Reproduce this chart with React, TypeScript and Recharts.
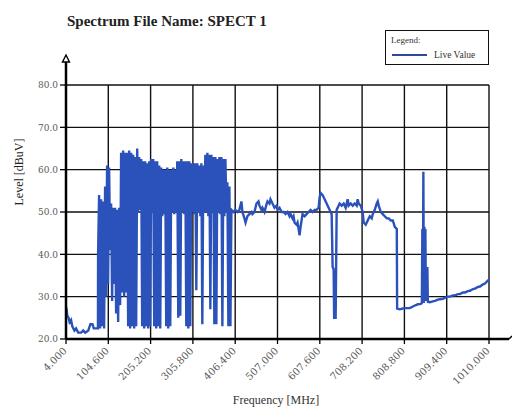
import React from 'react';
import { LineChart, Line, XAxis, YAxis, CartesianGrid } from 'recharts';

const lowBand: [number, number][] = [
  [4.0, 27.5], [5.5, 27.0], [7.0, 25.5], [10.0, 25.0], [12.5, 24.0], [16.0, 24.5],
  [19.0, 23.0], [24.0, 22.0], [28.0, 22.5], [33.0, 21.5], [40.0, 21.5], [45.0, 22.0],
  [50.0, 21.5], [57.0, 22.0], [62.0, 23.5], [67.0, 23.5], [70.0, 22.5], [76.0, 22.5],
  [80.0, 22.5],
];

const tvBand: [number, number][] = [
  [80.3, 40], [82.7, 54], [85.1, 22.5], [87.5, 53], [89.8, 23], [92.2, 52.5],
  [94.6, 22.5], [97.0, 56], [99.4, 30], [101.7, 61], [104.1, 33], [106.5, 60.5],
  [108.9, 41], [111.3, 52], [113.7, 29], [116.0, 51], [118.4, 33], [120.8, 51],
  [123.2, 26], [125.6, 50.5], [128.0, 24], [130.4, 51], [132.7, 28], [135.1, 64],
  [137.5, 31], [139.9, 64.5], [142.3, 30], [144.7, 64], [147.0, 31], [149.4, 64],
  [151.8, 23], [154.2, 64.5], [156.6, 22.5], [159.0, 64], [161.4, 23], [163.7, 63.5],
  [166.1, 22.5], [168.5, 63], [170.9, 23], [173.3, 65], [175.6, 50], [178.0, 63],
  [180.4, 50.5], [182.8, 62.5], [185.2, 23], [187.6, 62], [190.0, 22.5], [192.3, 62],
  [194.7, 23], [197.1, 61.5], [199.5, 22.5], [201.9, 62], [204.3, 23], [206.6, 62.5],
  [209.0, 50], [211.4, 62.5], [213.8, 23], [216.2, 62], [218.6, 22.5], [220.9, 62],
  [223.3, 23], [225.7, 61], [228.1, 22.5], [230.5, 60.5], [232.9, 49], [235.3, 60],
  [237.6, 49.5], [240.0, 60], [242.4, 23], [244.8, 60.5], [247.2, 22.5], [249.6, 60],
  [251.9, 23], [254.3, 60], [256.7, 50], [259.1, 60.5], [261.5, 49.5], [263.9, 60],
  [266.2, 50], [268.6, 62], [271.0, 25], [273.4, 62], [275.8, 25.5], [278.2, 62.5],
  [280.6, 50], [282.9, 62], [285.3, 49.5], [287.7, 62], [290.1, 23], [292.5, 62],
  [294.9, 22.5], [297.2, 62], [299.6, 23], [302.0, 61.5], [304.4, 50], [306.8, 61.5],
  [309.2, 49.5], [311.5, 61.5], [313.9, 31.5], [316.3, 61.5], [318.7, 50], [321.1, 61],
  [323.5, 49], [325.9, 61.5], [328.2, 23.5], [330.6, 61], [333.0, 50], [335.4, 63.5],
  [337.8, 50], [340.2, 64], [342.5, 49], [344.9, 63.5], [347.3, 27], [349.7, 63.5],
  [352.1, 50], [354.5, 63], [356.8, 23.5], [359.2, 63], [361.6, 23.5], [364.0, 62.5],
  [366.4, 50], [368.8, 63], [371.2, 49.5], [373.5, 63], [375.9, 23], [378.3, 62.5],
  [380.7, 49], [383.1, 62.5], [385.5, 50], [387.8, 57], [390.2, 23], [392.6, 56],
  [395.0, 23], [397.4, 50.5],
];

const midBand: [number, number][] = [
  [402.1, 50], [406.9, 50.5], [411.7, 50], [416.4, 50.5], [421.2, 52.5], [423.6, 50],
  [428.4, 48.5], [431.0, 47.5], [435.5, 49], [440.3, 49.5], [445.0, 50], [447.4, 49.5],
  [452.2, 50], [457.0, 52], [461.7, 52.5], [464.1, 51.5], [468.9, 50.5], [471.3, 51],
  [476.1, 50], [480.0, 51.5], [483.2, 52.5], [487.9, 52], [490.3, 53], [495.1, 52],
  [499.9, 51], [504.7, 51.5], [507.0, 50.5], [511.8, 51], [516.6, 50], [521.4, 50],
  [526.1, 49.5], [530.9, 50], [535.6, 49], [538.0, 49.5], [542.8, 48.5], [545.2, 49],
  [547.6, 47.5], [552.3, 47], [554.7, 47.5], [557.1, 46], [559.5, 44.5], [561.9, 46.5],
  [564.2, 48], [566.6, 49.5], [571.4, 49], [576.2, 49.5], [581.0, 50], [585.7, 50.5],
  [590.5, 50], [595.2, 50.5], [600.0, 50.5], [604.8, 51], [607.2, 53.5], [609.6, 54.5],
  [614.3, 54], [619.1, 53], [623.8, 52], [628.6, 51], [633.4, 50], [635.8, 49.5],
  [638.1, 37], [640.5, 36.5], [641.7, 25], [645.3, 25], [647.7, 50.5], [650.0, 51],
  [654.8, 52], [659.6, 51.5], [664.4, 52], [669.1, 51], [673.9, 53], [676.3, 51.5],
  [681.1, 52], [685.8, 51.5], [690.6, 52], [695.4, 51.5], [697.7, 53], [700.1, 52],
  [704.9, 51.5], [709.6, 50], [712.0, 47.5], [716.8, 47], [721.6, 48], [726.4, 49],
  [731.1, 48.5], [733.5, 49.5], [738.3, 50.5], [743.0, 52], [745.4, 52.5], [747.8, 51.5],
  [752.6, 50], [757.3, 49.5], [762.1, 49], [766.9, 48.5], [771.6, 48.5], [776.4, 48],
  [781.2, 48], [786.0, 46.5], [790.7, 46],
];

const highBand: [number, number][] = [
  [791.5, 27.2], [797.9, 27], [805.0, 27.2], [812.2, 27.3], [821.7, 27.3], [831.2, 27.8],
  [840.8, 28.2], [848.0, 28.3], [850.3, 28.5], [851.5, 46], [852.7, 28.5], [853.9, 59.5],
  [855.1, 28.5], [856.3, 46.5], [857.5, 29], [858.7, 46], [859.9, 29], [861.0, 37],
  [862.2, 29], [863.4, 37], [864.6, 28.8], [869.4, 28.7], [876.5, 28.9], [881.3, 29],
  [888.4, 29.3], [893.2, 29.4], [900.4, 29.5], [905.2, 29.7], [912.3, 30], [917.1, 30],
  [924.2, 30.3], [929.0, 30.3], [936.2, 30.6], [940.9, 30.6], [948.1, 31], [952.8, 31],
  [960.0, 31.3], [964.8, 31.4], [971.9, 31.8], [976.7, 31.9], [983.8, 32.3], [988.6, 32.4],
  [995.7, 32.9], [1000.5, 33.1], [1005.3, 33.6], [1010.0, 34],
];

const xTicks = [4, 104.6, 205.2, 305.8, 406.4, 507, 607.6, 708.2, 808.8, 909.4, 1010];
const yTicks = [20, 30, 40, 50, 60, 70, 80];

const data = [...lowBand, ...tvBand, ...midBand, ...highBand].map(([f, v]) => ({ f, v }));

const LINE_BLUE = '#2b52bb';
const TICK_GREY = '#5a5a5a';

function FreqTick({ x, y, payload }: any) {
  return (
    <text
      x={0}
      y={0}
      transform={`translate(${x - 1},${y + 3}) rotate(-45)`}
      textAnchor="end"
      dy="0.35em"
      fontSize={10}
      fontFamily="'DejaVu Serif', serif"
      fill={TICK_GREY}
    >
      {Number(payload.value).toFixed(3)}
    </text>
  );
}

export default function App() {
  return (
    <div
      style={{
        position: 'absolute',
        left: 0,
        top: 0,
        width: 512,
        height: 408,
        overflow: 'hidden',
        background: '#fff',
        fontFamily: "'Liberation Serif', serif",
      }}
    >
      <div
        style={{
          position: 'absolute',
          left: 67,
          top: 14,
          fontSize: 15,
          lineHeight: '15px',
          fontWeight: 'bold',
          color: '#222',
          whiteSpace: 'nowrap',
        }}
      >
        Spectrum File Name: SPECT 1
      </div>

      <LineChart
        width={512}
        height={408}
        data={data}
        margin={{ top: 85, right: 23, bottom: 0, left: 0 }}
      >
        <CartesianGrid stroke="#111" strokeWidth={1.4} />
        <XAxis
          type="number"
          dataKey="f"
          domain={[4, 1010]}
          ticks={xTicks}
          interval={0}
          height={69}
          tickSize={5}
          tick={<FreqTick />}
          axisLine={{ stroke: '#000', strokeWidth: 2.5 }}
          tickLine={{ stroke: '#000', strokeWidth: 1.3 }}
        />
        <YAxis
          type="number"
          domain={[20, 80]}
          ticks={yTicks}
          width={66}
          tickSize={6}
          tickFormatter={(v: number) => v.toFixed(1)}
          tick={{ fontSize: 9, fill: TICK_GREY, fontFamily: "'DejaVu Serif', serif" }}
          axisLine={{ stroke: '#000', strokeWidth: 2.5 }}
          tickLine={{ stroke: '#000', strokeWidth: 1.3 }}
        />
        <Line
          type="linear"
          dataKey="v"
          stroke={LINE_BLUE}
          strokeWidth={2.4}
          dot={false}
          isAnimationActive={false}
        />
      </LineChart>

      {/* axis arrows and titles */}
      <svg
        width={512}
        height={408}
        style={{ position: 'absolute', left: 0, top: 0, pointerEvents: 'none' }}
      >
        <line x1={66} y1={86} x2={66} y2={61} stroke="#000" strokeWidth={2.5} />
        <polygon points="66,55 62.5,62 69.5,62" fill="#fff" stroke="#000" strokeWidth={1.4} />
        <line x1={489} y1={339} x2={509} y2={339} stroke="#000" strokeWidth={2.5} />
        <line x1={509} y1={339} x2={512} y2={336} stroke="#000" strokeWidth={1.4} />
        <text
          x={19}
          y={172}
          transform="rotate(-90 19 172)"
          textAnchor="middle"
          dominantBaseline="central"
          fontSize={12}
          fontFamily="'Liberation Serif', serif"
          fill="#222"
        >
          Level [dBuV]
        </text>
        <text
          x={276}
          y={404}
          textAnchor="middle"
          fontSize={12}
          fontFamily="'Liberation Serif', serif"
          fill="#333"
        >
          Frequency [MHz]
        </text>
      </svg>

      {/* legend box */}
      <div
        style={{
          position: 'absolute',
          left: 385,
          top: 30,
          width: 102,
          height: 33,
          border: '1.5px solid #111',
          background: '#fff',
        }}
      >
        <svg width={102} height={33}>
          <text x={5} y={12} fontSize={9} fontFamily="'Liberation Serif', serif" fill="#333">
            Legend:
          </text>
          <line x1={6} y1={24} x2={41} y2={24} stroke="#2b4a9c" strokeWidth={2} />
          <text x={48} y={27} fontSize={9.5} fontFamily="'Liberation Serif', serif" fill="#333">
            Live Value
          </text>
        </svg>
      </div>
    </div>
  );
}
